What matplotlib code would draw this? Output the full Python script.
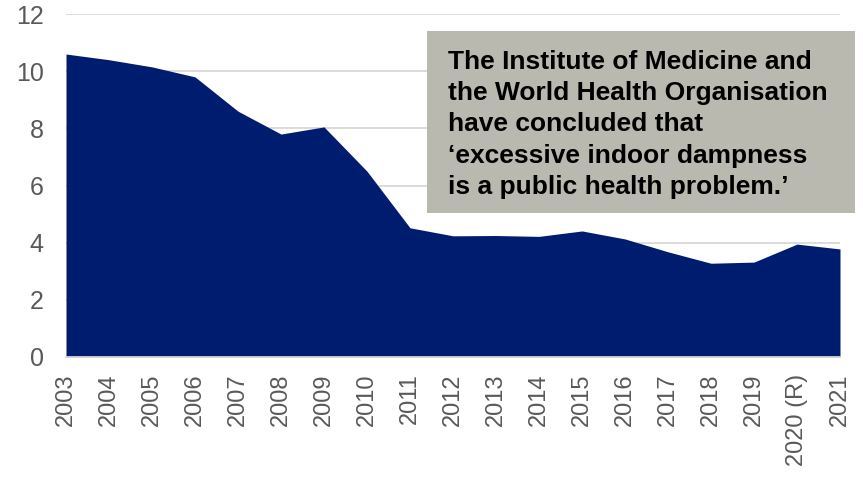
import matplotlib
matplotlib.use("Agg")
import matplotlib.pyplot as plt
from matplotlib.patches import Rectangle

plt.rcParams["font.family"] = ["Liberation Sans", "DejaVu Sans"]

years = ["2003", "2004", "2005", "2006", "2007", "2008", "2009", "2010", "2011",
         "2012", "2013", "2014", "2015", "2016", "2017", "2018", "2019",
         "2020 (R)", "2021"]
values = [10.6, 10.4, 10.15, 9.8, 8.6, 7.8, 8.05, 6.5, 4.52,
          4.24, 4.25, 4.22, 4.41, 4.13, 3.68, 3.28, 3.32, 3.95, 3.78]
y_ticks = [0, 2, 4, 6, 8, 10, 12]
note_lines = [
    "The Institute of Medicine and",
    "the World Health Organisation",
    "have concluded that",
    "\u2018excessive indoor dampness",
    "is a public health problem.\u2019",
]

fill_color = "#001c6e"
grid_color = "#d9d9d9"
tick_color = "#595959"

fig = plt.figure(figsize=(8.63, 4.83), dpi=100)
ax = fig.add_axes([66 / 863, 1 - 357 / 483, (840 - 66) / 863, (357 - 14) / 483])

x = list(range(len(years)))
ax.fill_between(x, values, 0, color=fill_color, linewidth=0, zorder=2)

ax.set_xlim(0, len(years) - 1)
ax.set_ylim(0, 12)
ax.set_yticks(y_ticks)
ax.set_yticklabels([str(t) for t in y_ticks])
ax.set_xticks(x)
ax.set_xticklabels(years, rotation=90)
ax.tick_params(axis="y", length=0, pad=16, labelsize=18, labelcolor=tick_color)
ax.tick_params(axis="x", length=0, pad=12, labelsize=17, labelcolor=tick_color)
for label in ax.get_yticklabels():
    label.set_horizontalalignment("right")

ax.grid(axis="y", color=grid_color, linewidth=1.3, zorder=1)
ax.set_axisbelow(True)
for side in ["top", "right", "left"]:
    ax.spines[side].set_visible(False)
ax.spines["bottom"].set_color(grid_color)
ax.spines["bottom"].set_linewidth(1.3)
ax.spines["bottom"].set_zorder(3)

# annotation box
box = Rectangle((427 / 863, 1 - 213 / 483), (855 - 427) / 863, (213 - 31) / 483,
                transform=fig.transFigure, facecolor="#b9b9b0", edgecolor="none", zorder=5)
fig.patches.append(box)
fig.text(448 / 863, 1 - 50 / 483, "\n".join(note_lines), ha="left", va="top",
         fontsize=19, fontweight="bold", color="black", linespacing=1.38, zorder=6)

fig.savefig("out.png", dpi=100)
